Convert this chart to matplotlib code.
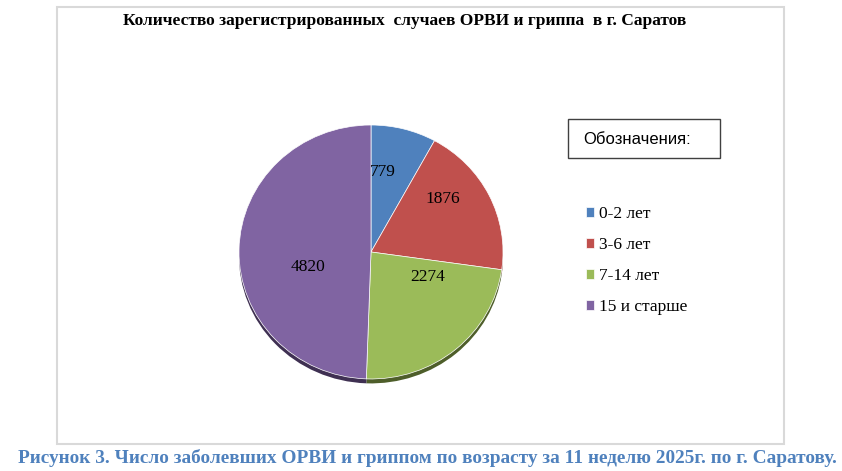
import matplotlib

matplotlib.use("Agg")

import matplotlib.pyplot as plt
from matplotlib.patches import Rectangle

# %% Data
age_groups = ["0-2 лет", "3-6 лет", "7-14 лет", "15 и старше"]
cases = [779, 1876, 2274, 4820]
colors = ["#4F81BD", "#C0504D", "#9BBB59", "#8064A2"]
shadow_colors = ["#2c4a70", "#6e2a28", "#4e5e2a", "#3f3052"]

title = "Количество зарегистрированных  случаев ОРВИ и гриппа  в г. Саратов"
caption = "Рисунок 3. Число заболевших ОРВИ и гриппом по возрасту за 11 неделю 2025г. по г. Саратову."

W, H = 842, 471
SERIF = ["Liberation Serif", "DejaVu Serif"]

# %% Figure with pixel-coordinate background axes
fig = plt.figure(figsize=(W / 100, H / 100), dpi=100)
bg = fig.add_axes([0, 0, 1, 1])
bg.set_xlim(0, W)
bg.set_ylim(H, 0)
bg.axis("off")

# chart area border
bg.add_patch(Rectangle((57, 7), 727, 437, fill=False, edgecolor="#d9d9d9", lw=1.5))

bg.text(405, 21, title, ha="center", va="center", fontsize=12.5, fontweight="bold",
        family=SERIF, color="black")
bg.text(427, 458, caption, ha="center", va="center", fontsize=13.9, fontweight="bold",
        family=SERIF, color="#4F81BD")

# legend header box
bg.add_patch(Rectangle((568, 119), 152, 39, fill=False, edgecolor="#404040", lw=1.0))
bg.text(583, 139, "Обозначения:", ha="left", va="center", fontsize=12,
        family=["Liberation Sans", "DejaVu Sans"], color="black")

# %% Pie (axes box = pie bounding box incl. shadow, slightly squashed like the original)
px0, px1, py0, py1 = 239, 503, 125, 383.4
ax = fig.add_axes([px0 / W, 1 - py1 / H, (px1 - px0) / W, (py1 - py0) / H])

# dark "3D" shadow under the pie
ax.pie(cases, colors=shadow_colors, startangle=90, counterclock=False,
       center=(0, -0.035), radius=1.0, wedgeprops=dict(linewidth=0))

wedges, _, autotexts = ax.pie(
    cases,
    colors=colors,
    startangle=90,
    counterclock=False,
    radius=1.0,
    autopct=lambda p: f"{round(p * sum(cases) / 100):d}",
    pctdistance=0.62,
    wedgeprops=dict(linewidth=0.5, edgecolor="white"),
    textprops=dict(fontsize=12.5, family=SERIF, color="black"),
)
ax.set_aspect("auto")
ax.set_xlim(-1, 1)
ax.set_ylim(-1.035, 1)
ax.axis("off")

# label spots as Excel placed them
label_xy = [(0.09, 0.63), (0.545, 0.42), (0.43, -0.2), (-0.48, -0.12)]
for t, xy in zip(autotexts, label_xy):
    t.set_position(xy)

# %% Legend
fig.legend(
    wedges,
    age_groups,
    loc="upper left",
    bbox_to_anchor=(586 / W, 1 - 206 / H),
    frameon=False,
    prop=dict(family=SERIF, size=12.5),
    handlelength=0.48,
    handleheight=0.48,
    handletextpad=0.28,
    labelspacing=0.87,
    borderpad=0,
    borderaxespad=0,
)

fig.savefig("out.png", dpi=100)
